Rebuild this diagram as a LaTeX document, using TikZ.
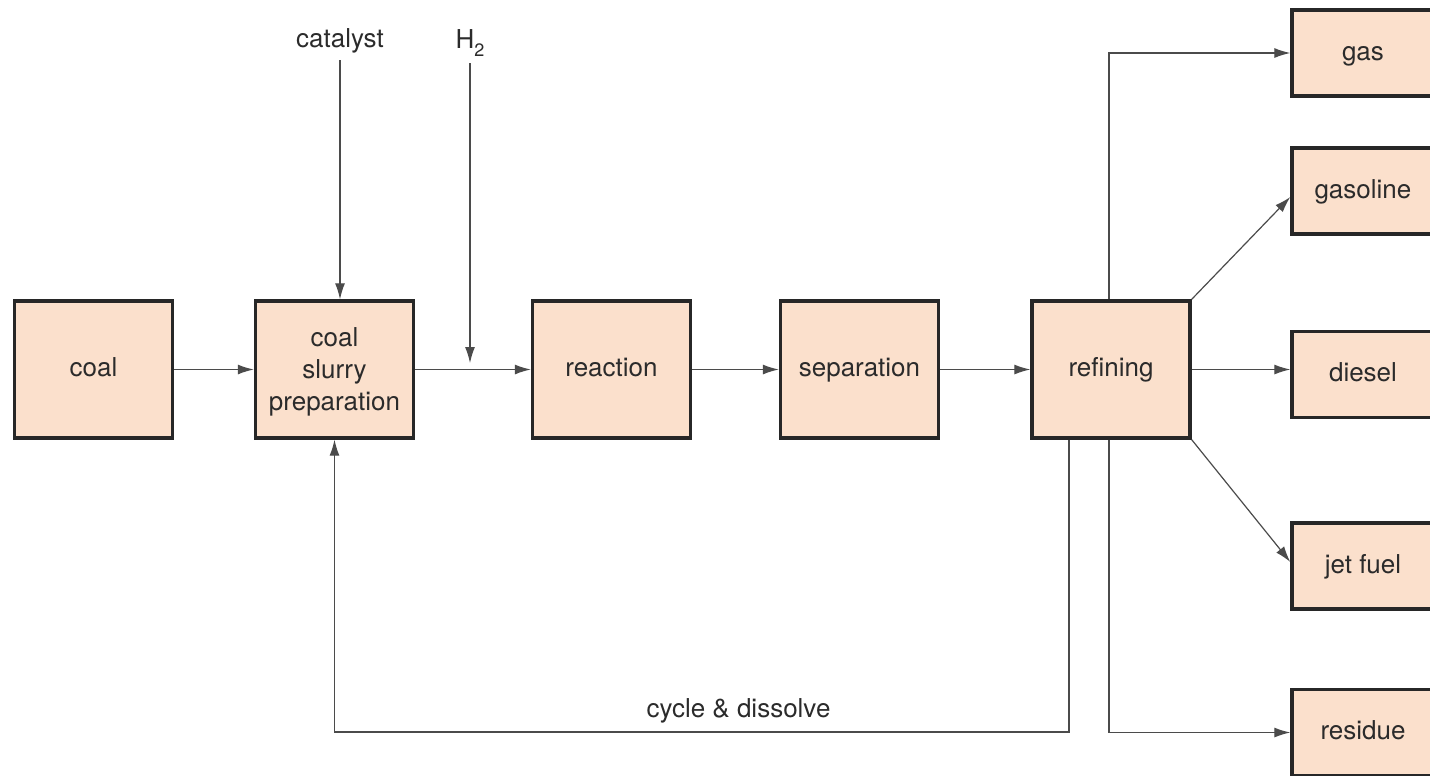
\documentclass[tikz,border=0pt]{standalone}
\usepackage{fontspec}
\setmainfont{TeX Gyre Heros}
\usetikzlibrary{arrows.meta}
\definecolor{boxfill}{HTML}{FBE0CC}
\definecolor{ink}{HTML}{2B2B2B}

\begin{document}
\begin{tikzpicture}[
  x = 0.5pt, y = -0.5pt,
  every node/.style = {text = ink, font = \fontsize{13}{16}\selectfont},
  box/.style = {draw = ink!90!black, fill = boxfill, line width = 1.7pt, align = center,
                minimum width = 79pt, minimum height = 68.5pt, inner sep = 0pt,
                text depth = 0pt},
  stage/.style = {box, text height = 0.73em},
  product/.style = {stage, minimum width = 71pt, minimum height = 43pt},
  flow/.style = {draw = ink!85, line width = 0.6pt, -{Latex[length = 8pt, width = 5pt]}},
  ]
  \useasboundingbox (0,0) rectangle (1430,776);

  % main line
  \node[stage] (coal)       at (93.5,369.5)  {coal};
  \node[box]   (slurry)     at (334.5,369.5) {coal\\slurry\\preparation};
  \node[stage] (reaction)   at (611.5,369.5) {reaction};
  \node[stage] (separation) at (859.5,369.5) {separation};
  \node[stage] (refining)   at (1111,369.5)  {refining};

  % products
  \node[product] (gas)      at (1363,53)    {gas};
  \node[product] (gasoline) at (1363,191)   {gasoline};
  \node[product] (diesel)   at (1363,374.5) {diesel};
  \node[product] (jetfuel)  at (1363,566)   {jet fuel};
  \node[product] (residue)  at (1363,732.5) {residue};

  % feeds
  \node (catalyst) at (340,41) {catalyst};
  \node (hydrogen) at (470,43) {H\raisebox{-0.55ex}{\fontsize{9}{9}\selectfont 2}};
  \coordinate (h2in) at (470,363);
  \coordinate (loop) at (1069,732);

  \draw[flow] (coal) -- (slurry);
  \draw[flow] (catalyst.south) -- (catalyst.south |- slurry.north);
  \draw[flow] (hydrogen.south) -- (h2in);
  \draw[flow] (slurry) -- (reaction);
  \draw[flow] (reaction) -- (separation);
  \draw[flow] (separation) -- (refining);

  \draw[flow] ([xshift=-1pt]refining.north) |- (gas);
  \draw[flow] (refining.north east) -- ([yshift=-3pt]gasoline.west);
  \draw[flow] (refining.east) -- (refining.east -| diesel.west);
  \draw[flow] (refining.south east) -- ([yshift=2pt]jetfuel.west);
  \draw[flow] ([xshift=-1pt]refining.south) |- (residue);

  \draw[flow] (refining.south -| loop) -- (loop)
    -- (loop -| slurry.south) node[pos = 0.45, above = 1pt] {cycle \& dissolve}
    -- (slurry.south);
\end{tikzpicture}
\end{document}
